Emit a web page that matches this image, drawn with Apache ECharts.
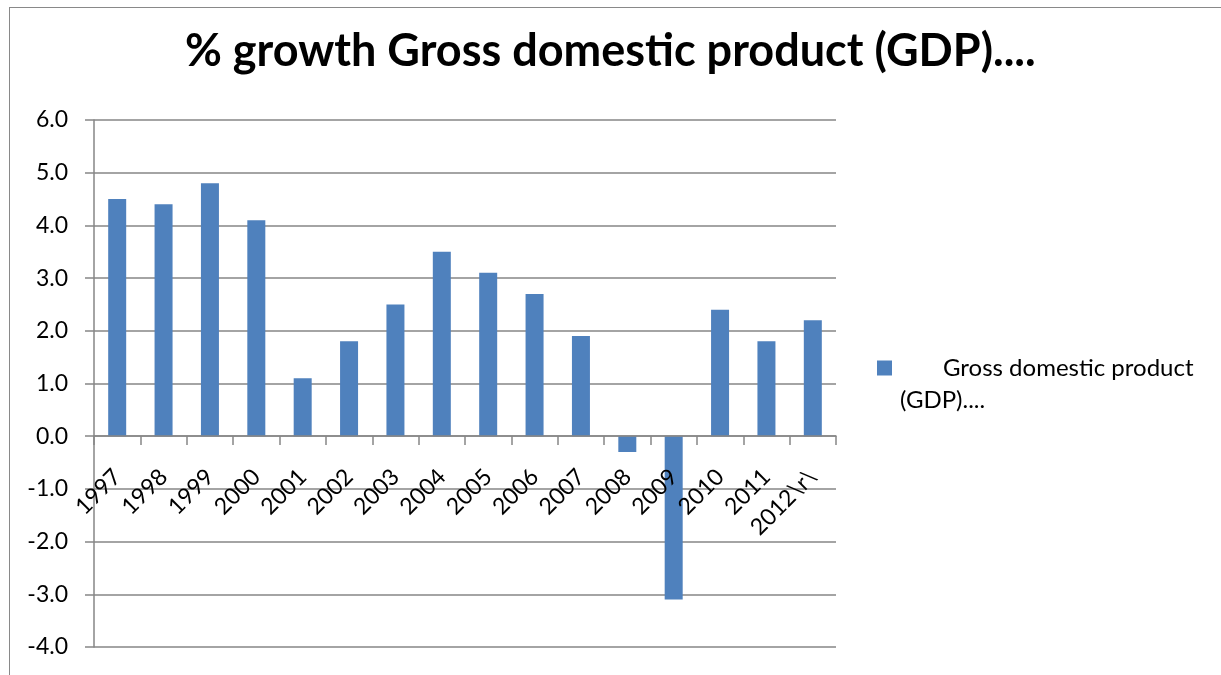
<!DOCTYPE html>
<html>
<head>
<meta charset="utf-8">
<script src="https://cdn.jsdelivr.net/npm/echarts@6/dist/echarts.min.js"></script>
<style>
    html, body { margin: 0; padding: 0; background: #fff; }
    #wrap { position: relative; width: 1221px; height: 675px; overflow: hidden; }
    #frame {
        position: absolute; left: 9px; top: 7px; width: 1230px; height: 700px;
        border-left: 1px solid #898989; border-top: 1px solid #898989;
    }
    #chart { position: absolute; left: 0; top: 0; width: 1221px; height: 675px; }
</style>
</head>
<body>
<div id="wrap">
    <div id="frame"></div>
    <div id="chart"></div>
</div>
<script>
    // 数据
    var years = ['1997','1998','1999','2000','2001','2002','2003','2004',
                 '2005','2006','2007','2008','2009','2010','2011','2012\\r\\'];
    var gdpGrowth = [4.5, 4.4, 4.8, 4.1, 1.1, 1.8, 2.5, 3.5, 3.1, 2.7, 1.9, -0.3, -3.1, 2.4, 1.8, 2.2];
    var seriesName = 'Gross domestic product (GDP)....';

    var barColor = '#4f81bd';
    var lineColor = '#868686';
    var fontName = 'Lato';

    var gridTop = 120, gridBottom = 28, chartH = 675;
    var yMin = -4, yMax = 6;
    // 分类轴放在0刻度处
    var plotH = chartH - gridTop - gridBottom;
    var zeroOffset = -Math.round(plotH * (0 - yMin) / (yMax - yMin));

    var myChart = echarts.init(document.getElementById('chart'));
    var option = {
        animation: false,
        title: {
            text: '% growth Gross domestic product (GDP)....',
            left: 180,
            top: 24,
            textStyle: { color: '#000', fontSize: 45, fontWeight: 'bold', fontFamily: fontName }
        },
        grid: {
            left: 94, right: 385, top: gridTop, bottom: gridBottom,
            containLabel: false, outerBoundsMode: 'none'
        },
        legend: {
            orient: 'vertical',
            left: 872,
            top: 315,
            itemWidth: 15,
            itemHeight: 15,
            itemGap: 0,
            icon: 'rect',
            formatter: function () {
                return '{a|Gross domestic product}\n(GDP)....';
            },
            textStyle: {
                color: '#000', fontSize: 24, fontFamily: fontName,
                lineHeight: 32, padding: [32, 0, 0, 3],
                rich: { a: { fontSize: 24, fontFamily: fontName, lineHeight: 32, padding: [0, 0, 0, 43] } }
            },
            data: [seriesName]
        },
        xAxis: {
            type: 'category',
            data: years,
            offset: zeroOffset,
            z: 5,
            axisLine: { onZero: false, lineStyle: { color: lineColor, width: 1.5 } },
            axisTick: { show: true, length: 9, lineStyle: { color: lineColor, width: 1.5 } },
            axisLabel: { rotate: 45, margin: 37, color: '#000', fontSize: 23, fontFamily: fontName, interval: 0 },
            splitLine: { show: false }
        },
        yAxis: {
            type: 'value',
            min: yMin,
            max: yMax,
            interval: 1,
            axisLine: { show: true, lineStyle: { color: lineColor, width: 1.5 } },
            axisTick: { show: true, length: 9, lineStyle: { color: lineColor, width: 1.5 } },
            axisLabel: {
                margin: 26, color: '#000', fontSize: 23, fontFamily: fontName,
                formatter: function (v) { return v.toFixed(1); }
            },
            splitLine: { show: true, lineStyle: { color: lineColor, width: 1.5 } }
        },
        series: [{
            name: seriesName,
            type: 'bar',
            data: gdpGrowth,
            barWidth: 18,
            itemStyle: { color: barColor }
        }]
    };
    myChart.setOption(option);
</script>
</body>
</html>
